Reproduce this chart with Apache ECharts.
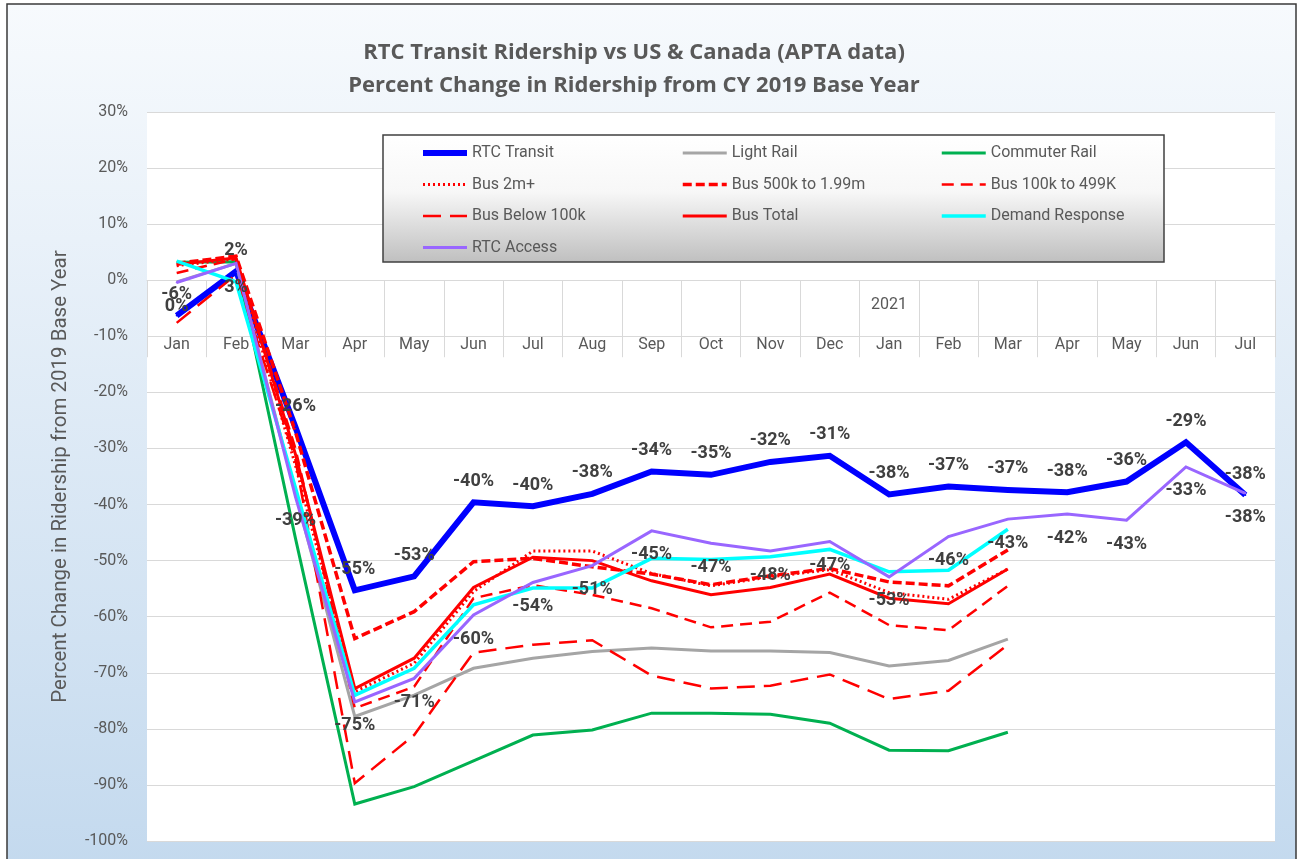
<!DOCTYPE html>
<html>
<head>
<meta charset="utf-8">
<title>RTC Transit Ridership vs US & Canada</title>
<script src="https://cdn.jsdelivr.net/npm/echarts@6/dist/echarts.min.js"></script>
<style>
  html, body { margin: 0; padding: 0; background: #fff; }
  #chart { width: 1298px; height: 859px; }
</style>
</head>
<body>
<div id="chart"></div>
<script>
// months Jan 2020 .. Jul 2021
const months = ['Jan', 'Feb', 'Mar', 'Apr', 'May', 'Jun', 'Jul', 'Aug', 'Sep', 'Oct', 'Nov', 'Dec',
  'Jan', 'Feb', 'Mar', 'Apr', 'May', 'Jun', 'Jul']
const yearLabels = ['', '', '', '', '', '', '', '', '', '', '', '', '2021', '', '', '', '', '', '']

// percent change vs 2019
const rtcTransit = [-6.3, 1.6, -26.2, -55.3, -52.8, -39.6, -40.3, -38.1, -34.1, -34.7, -32.4, -31.3,
  -38.2, -36.8, -37.4, -37.8, -35.9, -28.9, -38.3]
const lightRail = [-0.3, 3.0, -38, -77.8, -74, -69.2, -67.4, -66.2, -65.6, -66.1, -66.1, -66.4,
  -68.8, -67.8, -64.0, null, null, null, null]
const commuterRail = [3.2, 3.3, -46, -93.4, -90.3, -85.7, -81.1, -80.2, -77.2, -77.2, -77.4, -79.0,
  -83.8, -83.9, -80.6, null, null, null, null]
const bus2m = [2.6, 3.8, -33, -73.4, -68.3, -55.5, -48.3, -48.3, -52.3, -54.5, -52.9, -51.6,
  -55.7, -56.9, -51.5, null, null, null, null]
const bus500k = [3.0, 4.3, -27, -63.9, -59.1, -50.2, -49.6, -51.1, -52.4, -54.3, -52.7, -51.4,
  -53.8, -54.5, -48.1, null, null, null, null]
const bus100k = [1.3, 3.8, -30, -76.3, -72.5, -56.7, -54.4, -56.1, -58.5, -61.9, -60.9, -55.7,
  -61.5, -62.4, -54.5, null, null, null, null]
const busBelow100k = [-7.6, 1.0, -32, -89.7, -81.1, -66.4, -65.0, -64.2, -70.5, -72.8, -72.3, -70.3,
  -74.7, -73.2, -65.0, null, null, null, null]
const busTotal = [2.8, 4.0, -31, -72.8, -67.4, -54.8, -49.4, -50.0, -53.6, -56.1, -54.8, -52.4,
  -56.7, -57.7, -51.5, null, null, null, null]
const demandResponse = [3.4, -0.3, -37, -74.0, -69.2, -57.9, -54.9, -54.9, -49.6, -49.8, -49.3, -48.0,
  -52.0, -51.7, -44.4, null, null, null, null]
const rtcAccess = [-0.4, 3.0, -38.6, -75.2, -71.0, -59.7, -53.9, -50.9, -44.7, -46.9, -48.3, -46.6,
  -52.9, -45.7, -42.6, -41.7, -42.8, -33.3, -38.0]

const FONT = 'Roboto'
const GREY = '#595959'
const RED = '#ff0000'

// plot box (px) and y range, used to put the category axis on the 0% line
const GRID_TOP = 112
const GRID_BOTTOM = 18
const Y_MIN = -100
const Y_MAX = 30
const plotH = 859 - GRID_TOP - GRID_BOTTOM
const zeroOffset = -plotH * (0 - Y_MIN) / (Y_MAX - Y_MIN)

const pctLabel = (position, distance) => ({
  show: true,
  position: position,
  distance: distance,
  fontFamily: FONT,
  fontSize: 18,
  fontWeight: 'bold',
  color: '#404040',
  formatter: p => Math.round(p.value) + '%'
})

function line(name, data, color, width, type, label) {
  const s = {
    name: name,
    type: 'line',
    data: data,
    symbol: label ? 'circle' : 'none',
    symbolSize: 2,
    showSymbol: !!label,
    itemStyle: {color: color},
    lineStyle: {color: color, width: width, type: type || 'solid', cap: 'butt', join: 'miter'},
    emphasis: {disabled: true},
    animation: false
  }
  if (label) s.label = label
  return s
}

const chart = echarts.init(document.getElementById('chart'))

const legendBase = {
  orient: 'vertical',
  top: 145,
  itemWidth: 44,
  itemHeight: 14,
  itemGap: 15.5,
  padding: 0,
  selectedMode: false,
  itemStyle: {opacity: 0},
  lineStyle: {width: 'inherit'},
  textStyle: {fontFamily: FONT, fontSize: 16, color: GREY, lineHeight: 16}
}

chart.setOption({
  animation: false,
  title: {
    text: 'RTC Transit Ridership vs US & Canada (APTA data)\nPercent Change in Ridership from CY 2019 Base Year',
    left: 629,
    top: 31,
    textAlign: 'center',
    textStyle: {fontFamily: 'Open Sans', fontSize: 22, fontWeight: 'bold', color: GREY, lineHeight: 33}
  },
  graphic: [
    {
      type: 'rect', z: -10, silent: true,
      shape: {x: 7, y: 4, width: 1289, height: 870},
      style: {
        fill: new echarts.graphic.LinearGradient(0, 0, 0, 1, [
          {offset: 0, color: '#f7fafd'},
          {offset: 1, color: '#c3d9ee'}
        ]),
        stroke: '#3a3a3a', lineWidth: 1.5
      }
    },
    {
      type: 'rect', z: 3, silent: true,
      shape: {x: 383, y: 135, width: 781, height: 127},
      style: {
        fill: new echarts.graphic.LinearGradient(0, 0, 0, 1, [
          {offset: 0, color: '#ffffff'},
          {offset: 0.45, color: '#f7f7f7'},
          {offset: 1, color: '#bfbfbf'}
        ]),
        stroke: '#404040', lineWidth: 1.5
      }
    }
  ],
  legend: [
    Object.assign({}, legendBase, {left: 420, data: ['RTC Transit', 'Bus 2m+', 'Bus Below 100k', 'RTC Access']}),
    Object.assign({}, legendBase, {left: 681, data: ['Light Rail', 'Bus 500k to 1.99m', 'Bus Total']}),
    Object.assign({}, legendBase, {left: 940, data: ['Commuter Rail', 'Bus 100k to 499K', 'Demand Response']})
  ],
  grid: {
    left: 147, right: 23, top: GRID_TOP, bottom: GRID_BOTTOM,
    show: true, backgroundColor: '#ffffff', borderWidth: 0,
    outerBoundsMode: 'none'
  },
  xAxis: [
    {
      type: 'category',
      data: months,
      position: 'bottom',
      offset: zeroOffset,
      boundaryGap: true,
      axisLine: {onZero: false, lineStyle: {color: '#d9d9d9', width: 1}},
      axisTick: {show: true, interval: 0, length: 77, lineStyle: {color: '#d9d9d9', width: 1}},
      axisLabel: {show: true, interval: 0, margin: 57, fontFamily: FONT, fontSize: 16, color: GREY},
      splitLine: {show: false}
    },
    {
      type: 'category',
      data: yearLabels,
      position: 'bottom',
      offset: zeroOffset,
      axisLine: {show: false, onZero: false},
      axisTick: {show: false},
      axisLabel: {interval: 0, margin: 17, fontFamily: FONT, fontSize: 16, color: GREY},
      splitLine: {show: false}
    }
  ],
  yAxis: {
    type: 'value',
    min: Y_MIN,
    max: Y_MAX,
    interval: 10,
    name: 'Percent Change in Ridership from 2019 Base Year',
    nameLocation: 'middle',
    nameGap: 76,
    nameTextStyle: {fontFamily: FONT, fontSize: 20.5, color: GREY},
    axisLine: {show: false},
    axisTick: {show: false},
    axisLabel: {margin: 19, fontFamily: FONT, fontSize: 16, color: GREY, formatter: '{value}%'},
    splitLine: {lineStyle: {color: '#d9d9d9', width: 1}}
  },
  series: [
    line('RTC Transit', rtcTransit, '#0000ff', 6, 'solid', pctLabel('top', 11)),
    line('Light Rail', lightRail, '#a5a5a5', 3),
    line('Commuter Rail', commuterRail, '#00b050', 3),
    line('Bus 2m+', bus2m, RED, 3, [2, 3]),
    line('Bus 500k to 1.99m', bus500k, RED, 3.5, [9, 4]),
    line('Bus 100k to 499K', bus100k, RED, 2.5, [12, 7]),
    line('Bus Below 100k', busBelow100k, RED, 2.5, [18, 9]),
    line('Bus Total', busTotal, RED, 3),
    line('Demand Response', demandResponse, '#00ffff', 3.5),
    line('RTC Access', rtcAccess, '#9966ff', 3, 'solid', pctLabel('bottom', 14))
  ]
})
</script>
</body>
</html>
